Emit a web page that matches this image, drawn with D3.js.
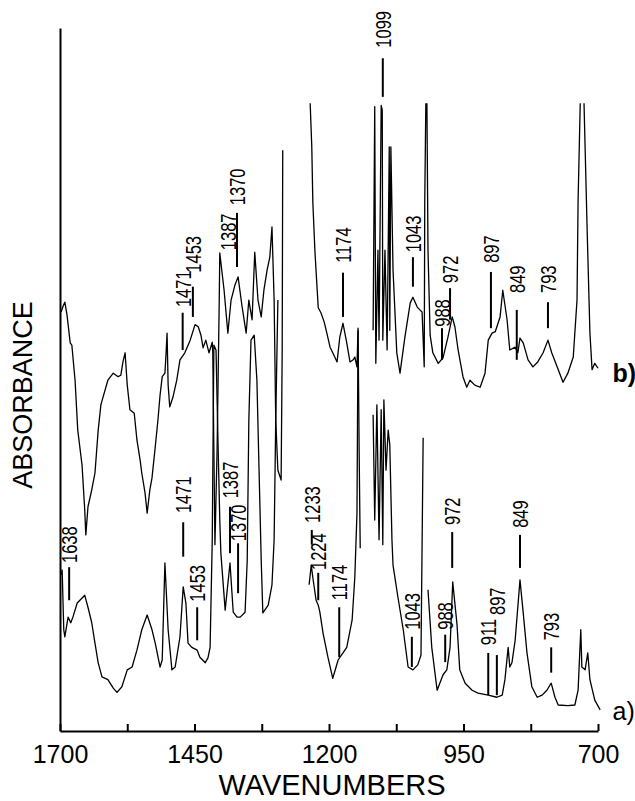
<!DOCTYPE html>
<html>
<head>
<meta charset="utf-8">
<script src="https://cdn.jsdelivr.net/npm/d3@7"></script>
<style>
  body { margin: 0; background: #fff; }
  svg text { font-family: "Liberation Sans", Arial, sans-serif; fill: #000; }
</style>
</head>
<body>
<svg id="chart"></svg>
<script>
// spectra: [wavenumber, absorbance (0-100, arbitrary)]; null = pen lift
const traceA = [
  [1698,22.2],[1696,22.9],[1693,14.4],[1691,13.4],[1685,16.2],[1680,15.4],[1676,16.2],[1668,18.2],[1663,18.6],
  [1654,19.3],[1648,17.6],[1641,15.4],[1635,12.5],[1629,9.7],[1622,7.7],[1611,7.3],[1601,6.1],[1594,5.5],
  [1585,6.3],[1575,8.7],[1566,9.1],[1557,11.5],[1548,14.4],[1538,16.5],[1529,14.4],[1523,12.5],[1514,9.1],
  [1510,10.1],[1505,23.9],[1499,14.4],[1492,8.7],[1486,9.1],[1477,13.4],[1471,20.5],[1466,18.2],[1462,12.5],
  [1455,11.9],[1445,11.5],[1440,10.5],[1430,9.7],[1425,10.4],[1421,11.9],[1417,27.2],[1414,54.9],[1410,54.2],
  [1406,40.0],[1403,30.0],[1401,25.3],[1393,17.2],[1384,23.9],[1378,16.9],[1371,16.2],[1365,16.2],[1356,16.9],
  [1352,24.3],[1349,44.2],[1345,55.6],[1339,56.3],[1334,49.9],[1330,37.1],[1326,24.3],[1323,16.8],[1313,17.9],
  [1306,20.8],[1302,27.2],[1299,44.2],[1295,61.3],
  null,
  [1237,20.8],[1233,23.6],[1230,21.8],[1224,18.6],[1220,17.9],[1217,16.9],[1211,13.9],[1202,10.5],[1193,7.5],
  [1183,10.1],[1174,11.1],[1167,11.9],[1157,15.8],[1152,21.9],[1148,31.0],[1146,57.0],
  null,
  [1118,45.0],[1115,30.0],[1111,46.4],[1107,27.2],[1103,45.7],[1100,26.5],[1098,47.1],[1094,37.1],[1090,42.8],
  [1087,40.7],[1083,27.2],[1081,23.6],[1072,19.1],[1062,14.4],[1053,9.1],[1044,8.7],[1035,9.4],[1029,10.8],
  [1025,41.7],
  null,
  [1016,20.1],[1009,11.9],[999,5.8],[988,8.0],[981,8.7],[975,11.9],[970,21.2],[962,15.1],[957,8.7],[947,6.8],
  [934,5.8],[923,5.4],[904,5.1],[888,4.8],[878,5.1],[873,7.3],[867,11.9],[864,9.1],[860,9.7],[854,12.9],
  [845,21.5],[839,16.8],[832,11.1],[823,6.3],[813,4.8],[804,5.1],[795,5.8],[787,6.8],[780,4.8],[774,3.7],
  [756,3.6],[743,3.7],[737,5.8],[732,14.4],[730,9.1],[724,8.7],[719,11.1],[715,7.3],[706,4.4],[696,3.0]
];

const traceB = [
  [1698,59.6],[1694,60.5],[1691,61.0],[1687,59.2],[1681,55.2],[1678,54.9],[1672,49.9],[1667,42.8],[1659,37.8],
  [1654,31.4],[1652,27.9],[1648,31.9],[1641,34.3],[1635,36.7],[1629,42.8],[1624,46.4],[1620,47.5],[1611,49.9],
  [1601,50.9],[1592,50.4],[1587,50.6],[1583,52.5],[1579,53.8],[1575,49.2],[1570,45.7],[1562,45.2],[1557,41.4],
  [1551,38.5],[1548,36.7],[1542,33.9],[1538,31.0],[1533,34.3],[1529,36.0],[1523,40.4],[1518,44.2],[1514,47.8],
  [1510,50.4],[1505,50.9],[1503,53.5],[1501,56.6],[1499,49.2],[1496,46.1],[1490,47.5],[1483,49.9],[1477,52.8],
  [1468,53.8],[1458,55.6],[1449,57.8],[1443,57.5],[1438,56.3],[1434,54.5],[1429,55.6],[1423,53.8],[1417,55.3],
  [1416,53.8],[1414,40.0],[1412,26.5],[1408,40.0],[1404,61.3],[1403,68.0],[1395,62.7],[1388,56.6],[1382,61.3],
  [1375,63.4],[1369,64.6],[1362,60.6],[1354,56.6],[1349,61.3],[1343,58.5],[1338,68.1],[1332,61.3],[1326,58.9],
  [1321,62.7],[1315,65.6],[1310,67.4],[1306,71.7],[1302,61.3],[1299,44.2],[1295,37.1],[1289,35.7],[1287,54.2],
  [1286,82.6],
  null,
  [1235,89.3],[1232,83.1],[1230,75.1],[1226,68.0],[1220,60.2],[1215,59.5],[1209,58.2],[1204,56.6],[1198,54.6],
  [1193,53.8],[1185,52.5],[1180,56.0],[1174,58.0],[1167,55.2],[1161,52.5],[1155,52.8],[1152,53.2],[1148,51.8],
  [1146,57.3],[1144,40.0],[1142,26.0],
  null,
  [1118,57.0],[1115,88.8],[1113,52.3],[1109,68.4],[1107,55.6],[1103,89.0],[1101,88.3],[1100,55.6],[1096,68.4],
  [1092,54.2],[1088,83.1],[1087,57.0],[1085,83.1],[1081,65.6],[1074,53.8],[1068,50.9],[1059,56.0],[1049,60.9],
  [1044,61.7],[1036,60.3],[1031,59.9],[1027,59.6],[1023,51.8],[1022,75.5],[1020,89.3],
  null,
  [1018,89.3],[1016,68.4],[1012,56.3],[1007,53.8],[997,52.3],[988,53.1],[979,56.0],[971,58.9],[966,57.5],
  [960,54.2],[951,50.4],[944,48.9],[938,49.9],[929,49.2],[919,48.9],[910,50.9],[904,55.6],[897,56.6],[891,56.8],
  [882,58.9],[877,62.7],[869,58.5],[864,54.2],[854,54.6],[849,53.8],[845,55.9],[839,55.2],[830,52.8],[821,51.8],
  [812,52.5],[802,53.8],[793,55.6],[786,53.8],[776,51.8],[765,49.6],[756,50.9],[746,53.2],[739,61.3],[737,75.5],
  [733,89.3],
  null,
  [726,89.3],[720,70.8],[715,56.6],[711,51.4],[706,52.3],[700,51.6]
];

// peak labels: [text, wavenumber, line bottom, line top, text start] (absorbance units)
const peakLabelsA = [
  ["1638",1683,18.6,23.3,23.9],["1471",1471,24.8,29.7,31.0],["1453",1445,12.9,17.6,18.4],
  ["1387",1384,25.3,31.9,33.1],["1370",1369,19.6,26.7,27.0],["1233",1232,26.5,28.6,29.6],
  ["1224",1220,18.6,22.5,22.9],["1174",1181,10.5,17.6,18.6],["1043",1046,9.1,13.4,14.4],
  ["988",984,9.8,13.7,14.4],["972",971,23.2,28.3,29.3],["911",904,5.1,11.1,12.2],
  ["897",888,5.1,10.8,16.5],["849",845,23.2,27.9,28.9],["793",787,8.3,11.9,12.9]
];
const peakLabelsB = [
  ["1471",1472,54.2,59.5,60.3],["1453",1453,58.9,63.2,65.2],["1387",1388,null,null,68.4],
  ["1370",1371,66.0,73.7,74.8],["1174",1174,58.9,65.2,66.6],["1099",1100,90.2,95.7,97.2],
  ["1043",1044,63.2,67.4,68.1],["988",990,52.8,57.3,57.5],["972",975,58.5,63.0,63.7],
  ["897",899,57.3,65.3,66.6],["849",851,52.8,59.9,62.3],["793",793,57.3,61.0,62.3]
];

// [text, wavenumber, absorbance, weight]
const seriesLabels = [["a)",673,1.6,"normal"],["b)",673,49.6,"bold"]];

const majorTicks = [1700,1450,1200,950,700];
const minorTicks = [1575,1325,1075,825];

const width = 635, height = 801;

const svg = d3.select("#chart")
  .attr("width", width)
  .attr("height", height);

const x = d3.scaleLinear().domain([1700, 700]).range([60, 598]);
const y = d3.scaleLinear().domain([0, 100]).range([731, 28]);

// axes
const xAxis = d3.axisBottom(x)
  .tickValues(majorTicks.concat(minorTicks))
  .tickSizeInner(-7)
  .tickSizeOuter(0)
  .tickPadding(14)
  .tickFormat(d => majorTicks.includes(d) ? d : "");

const gx = svg.append("g")
  .attr("transform", `translate(0,${y(0)})`)
  .call(xAxis);
gx.select(".domain").attr("stroke-width", 2);
gx.selectAll(".tick line").attr("stroke-width", 2);
gx.selectAll(".tick text")
  .style("font-size", "25px")
  .style("font-family", '"Liberation Sans", Arial, sans-serif');

const gy = svg.append("g")
  .attr("transform", `translate(${x(1700)},0)`)
  .call(d3.axisLeft(y).tickValues([]).tickSizeOuter(0));
gy.select(".domain").attr("stroke-width", 2);

svg.append("text")
  .attr("x", 332).attr("y", 795)
  .attr("text-anchor", "middle")
  .style("font-size", "29px")
  .text("WAVENUMBERS");

svg.append("text")
  .attr("transform", "translate(23,395) rotate(-90)")
  .attr("text-anchor", "middle")
  .attr("dominant-baseline", "central")
  .style("font-size", "27px")
  .text("ABSORBANCE");

// spectra
const line = d3.line()
  .defined(d => d !== null)
  .x(d => x(d[0]))
  .y(d => y(d[1]));

[traceA, traceB].forEach(tr => {
  svg.append("path")
    .datum(tr)
    .attr("d", line)
    .attr("fill", "none")
    .attr("stroke", "#000")
    .attr("stroke-width", 1.3)
    .attr("stroke-linejoin", "round");
});

// peak markers
function drawLabels(labels) {
  const g = svg.append("g");
  labels.forEach(([txt, wn, lo, hi, ts]) => {
    if (lo !== null) {
      g.append("line")
        .attr("x1", x(wn)).attr("x2", x(wn))
        .attr("y1", y(lo)).attr("y2", y(hi))
        .attr("stroke", "#000")
        .attr("stroke-width", 2);
    }
    g.append("text")
      .attr("transform", `translate(${x(wn)},${y(ts)}) rotate(-90) scale(0.75,1)`)
      .attr("dominant-baseline", "central")
      .style("font-size", "22px")
      .text(txt);
  });
}
drawLabels(peakLabelsA);
drawLabels(peakLabelsB);

svg.selectAll(".series-label")
  .data(seriesLabels)
  .enter()
  .append("text")
  .attr("class", "series-label")
  .attr("x", d => x(d[1]))
  .attr("y", d => y(d[2]))
  .style("font-size", "25px")
  .style("font-weight", d => d[3])
  .text(d => d[0]);
</script>
</body>
</html>
